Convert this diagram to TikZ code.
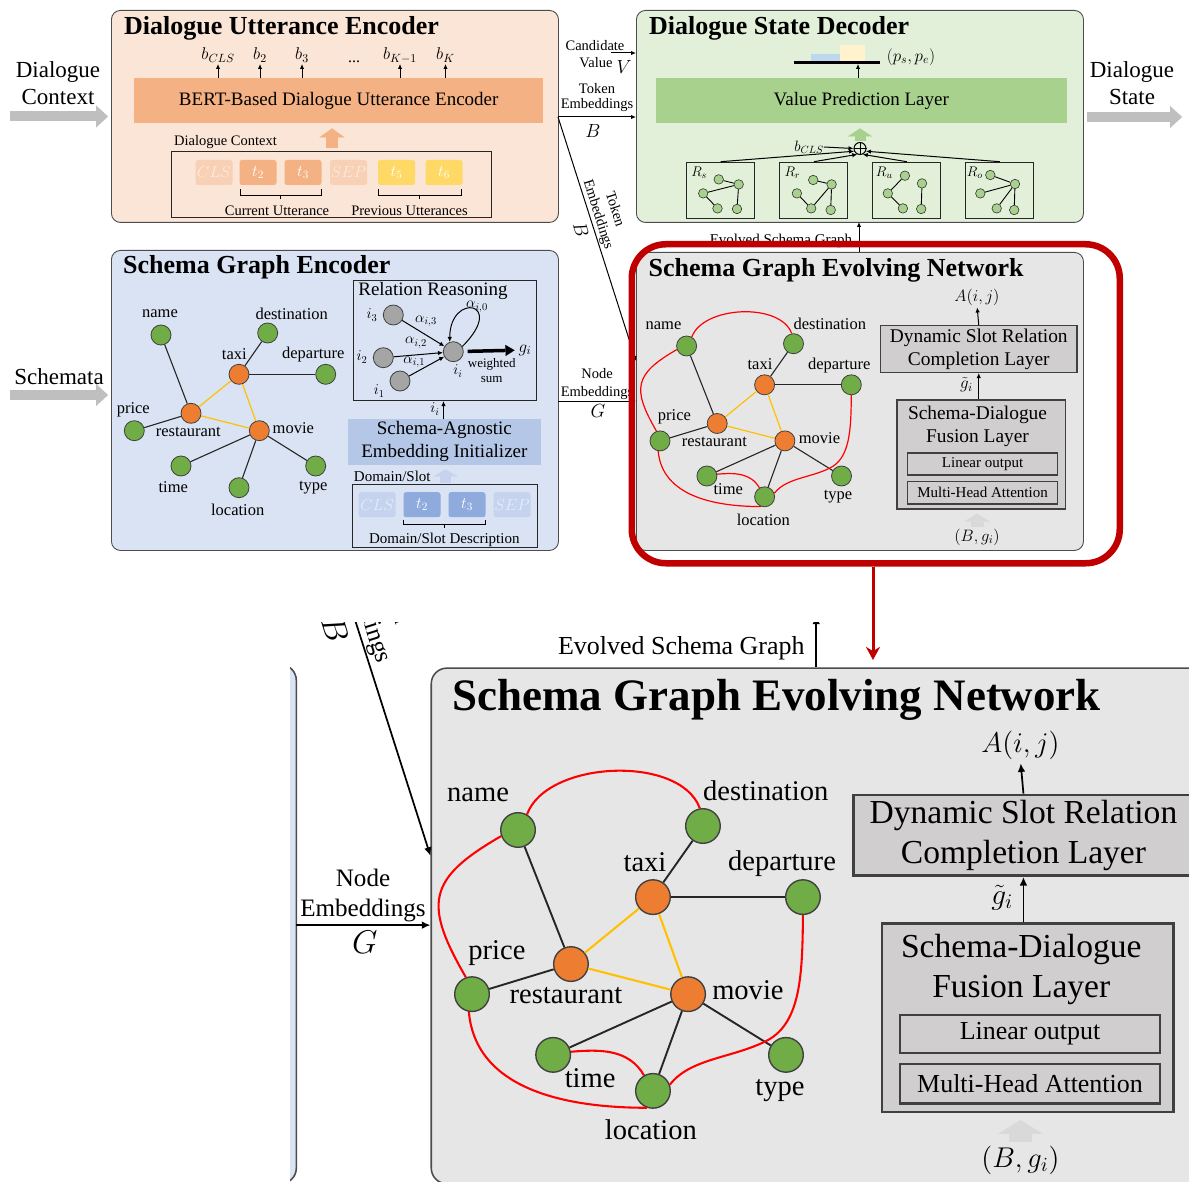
\RequirePackage{fix-cm}
\documentclass[tikz,border=0pt]{standalone}
\usepackage{fontspec}
\setmainfont{Liberation Serif}
\usetikzlibrary{arrows.meta,calc}
\definecolor{peach}{HTML}{FBE5D6}
\definecolor{bertc}{HTML}{F4B183}
\definecolor{tokyel}{HTML}{FFD966}
\definecolor{greenbg}{HTML}{E2F0D9}
\definecolor{vpl}{HTML}{A9D18E}
\definecolor{bluebg}{HTML}{DAE3F3}
\definecolor{sae}{HTML}{B4C7E7}
\definecolor{tokblue}{HTML}{8FAADC}
\definecolor{tokbluef}{HTML}{C5D3EE}
\definecolor{graybg}{HTML}{E7E6E6}
\definecolor{graybox}{HTML}{D0CECE}
\definecolor{gnode}{HTML}{70AD47}
\definecolor{onode}{HTML}{ED7D31}
\definecolor{yedge}{HTML}{FFC000}
\definecolor{rnode}{HTML}{A5A5A5}
\definecolor{darkred}{HTML}{C00000}
\definecolor{bigarr}{HTML}{BFBFBF}
\definecolor{lgarr}{HTML}{D9D9D9}
\definecolor{redc}{HTML}{FF0000}
\definecolor{barblue}{HTML}{BDD7EE}
\definecolor{baryel}{HTML}{FFF2CC}
\newcommand\fsz[1]{\fontsize{#1}{\fpeval{1.2*#1}}\selectfont}
\tikzset{
 panel/.style={draw=black!70, line width=0.9pt, rounded corners=9pt, inner sep=0pt, anchor=north west},
 framebx/.style={draw=black!85, line width=1pt, inner sep=0pt, anchor=north west},
 layer/.style={draw=black!75, line width=1.4pt, fill=graybox, inner sep=0pt, anchor=north west},
 lbl/.style={inner sep=0pt, font=\fsz{#1}},
 lbl/.default=15,
 ttl/.style={inner sep=0pt, anchor=base west, font=\bfseries\fsz{26}},
 gn/.style={circle, draw=black!75, line width=0.8pt, fill=gnode, minimum size=20pt, inner sep=0pt},
 on/.style={gn, fill=onode},
 rn/.style={gn, fill=rnode},
 sn/.style={circle, draw=black!80, line width=0.6pt, fill=vpl, minimum size=9.5pt, inner sep=0pt},
 bedge/.style={draw=black!85, line width=1.1pt},
 yedg/.style={draw=yedge, line width=1.2pt},
 redg/.style={draw=redc, line width=1.2pt},
 sedge/.style={draw=black, line width=0.9pt},
 brk/.style={draw=black, line width=0.9pt},
 arr/.style={draw=black, line width=1pt, -{Latex[length=5pt,width=4.5pt]}},
 tok/.style={rounded corners=2.5pt, minimum width=37pt, minimum height=25pt, inner sep=0pt, text=white, font=\fsz{16}},
}
\newcommand\minigraph[3]{%
 \foreach \nn/\xx/\yy in {#2} \node[sn] (#1\nn) at ($(#1.north west)+(\xx,\yy)$) {};
 \foreach \ea/\eb in {#3} \draw[sedge] (#1\ea) -- (#1\eb);
}
% ---------------- Schema Graph Evolving Network and the connectors around it
\newcommand\sgenpart[1]{%
\node[panel, fill=graybg, minimum width=447, minimum height=298] (#1sgen) at (636,252) {};
\node[ttl] (#1sgenT) at (648.5,277) {Schema Graph Evolving Network};
\coordinate (#1teS) at (558,117);
\coordinate (#1teE) at (636,361);
\draw[arr] (#1teS) -- (#1teE);
\node[lbl=14.5, align=center, rotate=-72.5] (#1teL2) at (606,212) {Token\\Embeddings};
\node[lbl=19, rotate=-72.5] (#1BL2) at (581,230) {$B$};
\node[lbl=14.5, align=center] (#1neL) at (597,384) {Node\\Embeddings};
\node[lbl=19] (#1GL) at (598,411) {$G$};
\coordinate (#1neS) at (558,401);
\draw[arr] (#1neS) -- (#1neS -| #1sgen.west);
\node[lbl=15] (#1esgL) at (781,241) {Evolved Schema Graph};
\coordinate (#1esA) at (859,252);
\coordinate (#1esB) at (859,222);
\draw[arr] (#1esA) -- (#1esB);
\node[gn] (#1Ename) at (686.6,346) {};
\node[gn] (#1Edest) at (793.5,343.7) {};
\node[on] (#1Etaxi) at (764.6,384.8) {};
\node[gn] (#1Edep) at (851.3,384.8) {};
\node[on] (#1Erest) at (717.2,423.5) {};
\node[gn] (#1Eprice) at (660,440.9) {};
\node[on] (#1Emovie) at (784.9,440.9) {};
\node[gn] (#1Etime) at (706.9,476) {};
\node[gn] (#1Eloc) at (764.6,496.8) {};
\node[gn] (#1Etype) at (841.5,476) {};
\node[lbl=16.5] (#1EnameL) at (663.5,325.8) {name};
\node[lbl=16.5] (#1EdestL) at (829.8,323.5) {destination};
\node[lbl=16.5] (#1EtaxiL) at (760,364.5) {taxi};
\node[lbl=16.5] (#1EdepL) at (839.2,365.7) {departure};
\node[lbl=16.5] (#1ErestL) at (714.3,442) {restaurant};
\node[lbl=16.5] (#1EpriceL) at (674.4,417.2) {price};
\node[lbl=16.5] (#1EmovieL) at (819.5,438.6) {movie};
\node[lbl=16.5] (#1EtimeL) at (728.3,489.3) {time};
\node[lbl=16.5] (#1ElocL) at (763.4,519.4) {location};
\node[lbl=16.5] (#1EtypeL) at (838,496.9) {type};
\draw[bedge] (#1Ename) -- (#1Erest);
\draw[bedge] (#1Edest) -- (#1Etaxi);
\draw[bedge] (#1Etaxi) -- (#1Edep);
\draw[bedge] (#1Eprice) -- (#1Erest);
\draw[bedge] (#1Emovie) -- (#1Etime);
\draw[bedge] (#1Emovie) -- (#1Eloc);
\draw[bedge] (#1Emovie) -- (#1Etype);
\draw[yedg] (#1Etaxi) -- (#1Erest);
\draw[yedg] (#1Etaxi) -- (#1Emovie);
\draw[yedg] (#1Erest) -- (#1Emovie);
\draw[redg] (#1Ename.60) to[out=70, in=110, looseness=0.85] (#1Edest.100);
\draw[redg] (#1Ename.200) to[out=210, in=120, looseness=1.5] (#1Eprice.110);
\draw[redg] (#1Eprice.260) to[out=-85, in=180] (#1Eloc.250);
\draw[redg] (#1Etime.10) to[out=5, in=120] (#1Eloc.120);
\draw[redg] (#1Edep.south) .. controls (851,430) and (850,458) .. (830,468) .. controls (810,478) and (786,478) .. (#1Eloc.20);
\node[layer, minimum width=196.3, minimum height=46.7, font=\fsz{19.4}, align=center] (#1dyn) at (879.9,325) {Dynamic Slot Relation\\Completion Layer};
\node[layer, minimum width=168.4, minimum height=109] (#1fus) at (896.3,399.3) {};
\node[lbl=19.4, align=center] (#1fusT) at (977.5,426.5) {Schema-Dialogue\\Fusion Layer};
\node[layer, minimum width=150.3, minimum height=22, font=\fsz{15}] (#1lin) at (906.7,452.3) {Linear output};
\node[layer, minimum width=150.3, minimum height=22.6, font=\fsz{15}] (#1mha) at (906.7,480.7) {Multi-Head Attention};
\node[lbl=16.5] (#1Aij) at (977,297) {$A(i,j)$};
\draw[arr, shorten >=2pt] (#1dyn.north) -- (#1Aij.south);
\node[lbl=17] (#1gt) at (966.5,385) {$\tilde{g}_i$};
\draw[arr] (#1fus.north -| #1dyn.north) -- (#1dyn.south);
\node[lbl=16.5] (#1Bg) at (977,537) {$(B,g_i)$};
\draw[draw=lgarr, line width=13pt, -{Triangle[length=8pt,width=26pt,line width=0.1pt]}, shorten >=4pt, shorten <=2pt] (#1Bg.north) -- (#1Bg.north |- #1fus.south);
}
% ---------------- the rest of the overview
\newcommand\toppart[1]{%
\node[panel, fill=peach, minimum width=447, minimum height=212] (#1due) at (111,10) {};
\node[panel, fill=greenbg, minimum width=447, minimum height=212] (#1dsd) at (636,10) {};
\node[panel, fill=bluebg, minimum width=447, minimum height=300] (#1sge) at (111,250) {};
\node[ttl] (#1dueT) at (124,35) {Dialogue Utterance Encoder};
\node[ttl] (#1dsdT) at (649,35) {Dialogue State Decoder};
\node[ttl] (#1sgeT) at (123,273.5) {Schema Graph Encoder};
\node[lbl=23, align=center] (#1dcL) at (58,83) {Dialogue\\Context};
\coordinate (#1dcS) at (10,116.5);
\draw[draw=bigarr, line width=10pt, -{Triangle[length=12pt,width=22pt,line width=0.1pt]}, shorten >=3pt] (#1dcS) -- (#1dcS -| #1due.west);
\node[lbl=23] (#1schL) at (59,377) {Schemata};
\coordinate (#1scS) at (10,395);
\draw[draw=bigarr, line width=10pt, -{Triangle[length=12pt,width=22pt,line width=0.1pt]}, shorten >=3pt] (#1scS) -- (#1scS -| #1sge.west);
\node[lbl=23, align=center] (#1dsL) at (1132,83) {Dialogue\\State};
\coordinate (#1dsO) at (1182,117);
\draw[draw=bigarr, line width=10pt, -{Triangle[length=12pt,width=22pt,line width=0.1pt]}, shorten <=3pt] (#1dsO -| #1dsd.east) -- (#1dsO);
% Dialogue Utterance Encoder
\node[fill=bertc, inner sep=0pt, minimum width=409, minimum height=45, anchor=north west, font=\fsz{19}] (#1bert) at (134,78) {BERT-Based Dialogue Utterance Encoder};
\foreach \nm/\xx/\tx in {b1/218/b_{CLS}, b2/260/b_2, b3/302/b_3, b4/400/b_{K-1}, b5/445.5/b_K}{
  \node[lbl=17, anchor=base] (#1\nm) at (\xx,60) {$\tx$};
  \draw[arr] (#1bert.north -| #1\nm.base) -- ([yshift=-4pt]#1\nm.base);
}
\node[lbl=16, anchor=base] (#1bdots) at (354,63) {...};
\coordinate (#1oaS) at (332,148);
\draw[draw=bertc, line width=12pt, -{Triangle[length=9pt,width=25pt,line width=0.1pt]}, shorten >=5pt] (#1oaS) -- (#1oaS |- #1bert.south);
\node[lbl=14.5, anchor=west] (#1dcxL) at (174,142) {Dialogue Context};
\node[framebx, minimum width=320.5, minimum height=66] (#1ctx) at (170.5,151) {};
\node[tok, fill=bertc!60, text=white!75!bertc] (#1c1) at (214,172.5) {$CLS$};
\node[tok, fill=bertc] (#1c2) at (258,172.5) {$t_2$};
\node[tok, fill=bertc] (#1c3) at (303,172.5) {$t_3$};
\node[tok, fill=bertc!60, text=white!75!bertc] (#1c4) at (348.5,172.5) {$SEP$};
\node[tok, fill=tokyel] (#1c5) at (396.5,172.5) {$t_5$};
\node[tok, fill=tokyel] (#1c6) at (444,172.5) {$t_6$};
\draw[brk] (240,189) -- (240,195) -- (321,195) -- (321,189) (280.5,195) -- (280.5,199);
\draw[brk] (378,189) -- (378,195) -- (461,195) -- (461,189) (419.5,195) -- (419.5,199);
\node[lbl=14.5] (#1cuL) at (277,210.5) {Current Utterance};
\node[lbl=14.5] (#1puL) at (409.5,210.5) {Previous Utterances};
% between the upper boxes
\node[lbl=14.5] (#1candL) at (595,46) {Candidate};
\node[lbl=14.5] (#1valL) at (596,63) {Value};
\node[lbl=19] (#1VL) at (624,67) {$V$};
\coordinate (#1cvS) at (611,53);
\draw[arr] (#1cvS) -- (#1cvS -| #1dsd.west);
\node[lbl=14.5] (#1tokL) at (597,89) {Token};
\node[lbl=14.5] (#1embL) at (597,105) {Embeddings};
\node[lbl=19] (#1BL) at (593,131) {$B$};
\coordinate (#1teH) at (558,117);
\draw[arr] (#1teH) -- (#1teH -| #1dsd.west);
% Dialogue State Decoder
\node[fill=vpl, inner sep=0pt, minimum width=411, minimum height=45, anchor=north west, font=\fsz{19}] (#1vpl) at (655.6,78) {Value Prediction Layer};
\node[fill=barblue, inner sep=0pt, minimum width=29, minimum height=8, anchor=south west] (#1pb1) at (811,62) {};
\node[fill=baryel, inner sep=0pt, minimum width=25, minimum height=17, anchor=south west] (#1pb2) at (840,62) {};
\node[fill=black, inner sep=0pt, minimum width=86, minimum height=2.5] (#1pbar) at (837,62.5) {};
\node[lbl=17] (#1pse) at (911,57) {$(p_s,p_e)$};
\draw[arr] (#1vpl.north -| 858,0) -- (#1pbar.south -| 858,0);
\node[circle, draw=black, line width=1pt, minimum size=12pt, inner sep=0pt] (#1oplus) at (860,148.5) {};
\draw[line width=0.9pt] (#1oplus.north) -- (#1oplus.south) (#1oplus.west) -- (#1oplus.east);
\draw[draw=vpl, line width=11pt, -{Triangle[length=8pt,width=24pt,line width=0.1pt]}, shorten >=5pt, shorten <=1pt] (#1oplus.north) -- (#1oplus.north |- #1vpl.south);
\node[lbl=15] (#1bc2) at (809,147) {$b_{CLS}$};
\draw[arr] (#1bc2.east) -- (#1oplus.west);
\node[framebx, minimum width=68, minimum height=56.5] (#1Rs) at (686.1,161.7) {};
\node[framebx, minimum width=68, minimum height=56.5] (#1Rr) at (779.4,161.7) {};
\node[framebx, minimum width=68, minimum height=56.5] (#1Ru) at (872.3,161.7) {};
\node[framebx, minimum width=68, minimum height=56.5] (#1Ro) at (965.3,161.7) {};
\node[lbl=14] (#1Rs0) at ($(#1Rs.north west)+(13,11)$) {$R_s$};
\node[lbl=14] (#1Rr0) at ($(#1Rr.north west)+(13,11)$) {$R_r$};
\node[lbl=14] (#1Ru0) at ($(#1Ru.north west)+(12,11)$) {$R_u$};
\node[lbl=14] (#1Ro0) at ($(#1Ro.north west)+(9.5,11)$) {$R_o$};
\minigraph{#1Rs}{1/32.6/17.7, 2/52.6/22.7, 3/17.1/31.7, 4/31.4/46.7, 5/50.9/47.3}{1/2, 3/2, 2/5, 3/4}
\minigraph{#1Rr}{1/33.8/18.3, 2/52.2/22.7, 3/17.5/31.7, 4/31.8/46.7, 5/51.3/48.3}{1/2, 2/4, 3/4, 2/5}
\minigraph{#1Ru}{1/32.6/14, 2/49.7/21.7, 3/15.5/31.7, 4/30.6/46.7, 5/48.9/47.3}{1/3, 3/4, 2/5}
\minigraph{#1Ro}{1/25/13.3, 2/49.7/22.3, 3/15/31.7, 4/31.4/46.7, 5/48.9/48.3}{1/2, 3/2, 2/4, 2/5}
\draw[arr] (#1Rs.north) -- (#1oplus.205);
\draw[arr] (#1Rr.north) -- (#1oplus.245);
\draw[arr] (#1Ru.north) -- (#1oplus.295);
\draw[arr] (#1Ro.north) -- (#1oplus.335);
% Schema Graph Encoder
\node[gn] (#1Sname) at (161,335) {};
\node[gn] (#1Sdest) at (267.7,333) {};
\node[on] (#1Staxi) at (239,374.3) {};
\node[gn] (#1Sdep) at (325.7,374.3) {};
\node[on] (#1Srest) at (191,413.3) {};
\node[gn] (#1Sprice) at (134.3,430.7) {};
\node[on] (#1Smovie) at (259.3,430.7) {};
\node[gn] (#1Stime) at (181,466) {};
\node[gn] (#1Sloc) at (239,487.7) {};
\node[gn] (#1Stype) at (315.7,466) {};
\node[lbl=16.5] (#1SnameL) at (160,314) {name};
\node[lbl=16.5] (#1SdestL) at (291.7,314) {destination};
\node[lbl=16.5] (#1StaxiL) at (234.3,354) {taxi};
\node[lbl=16.5] (#1SdepL) at (313.3,355) {departure};
\node[lbl=16.5] (#1SrestL) at (188.3,432.3) {restaurant};
\node[lbl=16.5] (#1SpriceL) at (133.3,409.3) {price};
\node[lbl=16.5] (#1SmovieL) at (293.3,428.3) {movie};
\node[lbl=16.5] (#1StimeL) at (173.3,486.7) {time};
\node[lbl=16.5] (#1SlocL) at (237.7,510) {location};
\node[lbl=16.5] (#1StypeL) at (313.3,487.7) {type};
\draw[bedge] (#1Sname) -- (#1Srest);
\draw[bedge] (#1Sdest) -- (#1Staxi);
\draw[bedge] (#1Staxi) -- (#1Sdep);
\draw[bedge] (#1Sprice) -- (#1Srest);
\draw[bedge] (#1Smovie) -- (#1Stime);
\draw[bedge] (#1Smovie) -- (#1Sloc);
\draw[bedge] (#1Smovie) -- (#1Stype);
\draw[yedg] (#1Staxi) -- (#1Srest);
\draw[yedg] (#1Staxi) -- (#1Smovie);
\draw[yedg] (#1Srest) -- (#1Smovie);
\node[framebx, minimum width=183, minimum height=120] (#1rr) at (352.7,280) {};
\node[lbl=19] (#1rrT) at (433,291) {Relation Reasoning};
\node[rn] (#1r3) at (393.3,315) {};
\node[rn] (#1r2) at (383.3,357.7) {};
\node[rn] (#1r1) at (400,381) {};
\node[rn] (#1rc) at (453.3,351.7) {};
\node[lbl=15] (#1r3L) at (372,315) {$i_3$};
\node[lbl=15] (#1r2L) at (362,357) {$i_2$};
\node[lbl=15] (#1r1L) at (379.3,391) {$i_1$};
\node[lbl=15] (#1rcL) at (458,371) {$i_i$};
\node[lbl=15] (#1a3L) at (426,321) {$\alpha_{i,3}$};
\node[lbl=15] (#1a2L) at (416,342.7) {$\alpha_{i,2}$};
\node[lbl=15] (#1a1L) at (414.3,362.3) {$\alpha_{i,1}$};
\node[lbl=15] (#1a0L) at (477,306.7) {$\alpha_{i,0}$};
\draw[arr] (#1r3) -- (#1rc);
\draw[arr] (#1r2) -- (#1rc);
\draw[arr] (#1r1) -- (#1rc);
\draw[arr] (#1rc.30) .. controls +(45,-45) and +(0,-50) .. (#1rc.110);
\node[lbl=17] (#1gi) at (525,350) {$g_i$};
\draw[line width=3.5pt, -{Triangle[length=9pt,width=11pt,line width=0.1pt]}, shorten <=4pt, shorten >=4pt] (#1rc) -- (#1gi);
\node[lbl=13] (#1wL) at (491.7,364) {weighted};
\node[lbl=13] (#1sL) at (491.7,380) {sum};
\node[fill=sae, inner sep=0pt, minimum width=193.7, minimum height=45.3, anchor=north west, font=\fsz{19}, align=center] (#1sae) at (347.3,419) {Schema-Agnostic\\Embedding Initializer};
\node[lbl=15] (#1iiL) at (435,409) {$i_i$};
\draw[arr] (#1sae.north -| 443.5,0) -- (#1rr.south -| 443.5,0);
\node[lbl=15] (#1dsl) at (392.3,476) {Domain/Slot};
\node[framebx, minimum width=185.6, minimum height=62.4] (#1dsbox) at (351.7,484.3) {};
\draw[draw=tokbluef, line width=11pt, -{Triangle[length=7pt,width=24pt,line width=0.1pt]}, shorten >=4.7pt, shorten <=1pt] (#1dsbox.north -| 445.5,0) -- (#1sae.south -| 445.5,0);
\node[tok, fill=tokbluef, text=white!60!tokbluef] (#1q1) at (377.2,504.7) {$CLS$};
\node[tok, fill=tokblue] (#1q2) at (422,504.7) {$t_2$};
\node[tok, fill=tokblue] (#1q3) at (467,504.7) {$t_3$};
\node[tok, fill=tokbluef, text=white!60!tokbluef] (#1q4) at (512,504.7) {$SEP$};
\draw[brk] (403.3,519.5) -- (403.3,524) -- (485,524) -- (485,519.5) (444.2,524) -- (444.2,528);
\node[lbl=15] (#1dsdL) at (444.3,539.5) {Domain/Slot Description};
}
\begin{document}
\begin{tikzpicture}[x=1pt,y=-1pt]
\useasboundingbox (0,0) rectangle (1189,1182);
\fill[white] (0,0) rectangle (1189,1182);
\toppart{a}
\sgenpart{a}
\node[draw=darkred, line width=6.5pt, rounded corners=34pt, inner sep=0pt, minimum width=488, minimum height=319, anchor=north west] (hl) at (628.5,241) {};
% magnified view of the evolving network
\begin{scope}
\clip (290,622) rectangle (1189,1182);
\begin{scope}[transform canvas={shift={(-669.8,231.4)}, scale=1.73}]
\node[panel, fill=bluebg, minimum width=447, minimum height=300] (bsge) at (111,250) {};
\sgenpart{b}
\end{scope}
\end{scope}
\coordinate (zoomtip) at (873,660);
\draw[draw=darkred, line width=3pt, -{Stealth[length=13pt,width=14pt,inset=4pt]}] (hl.south -| zoomtip) -- (zoomtip);
\end{tikzpicture}
\end{document}
